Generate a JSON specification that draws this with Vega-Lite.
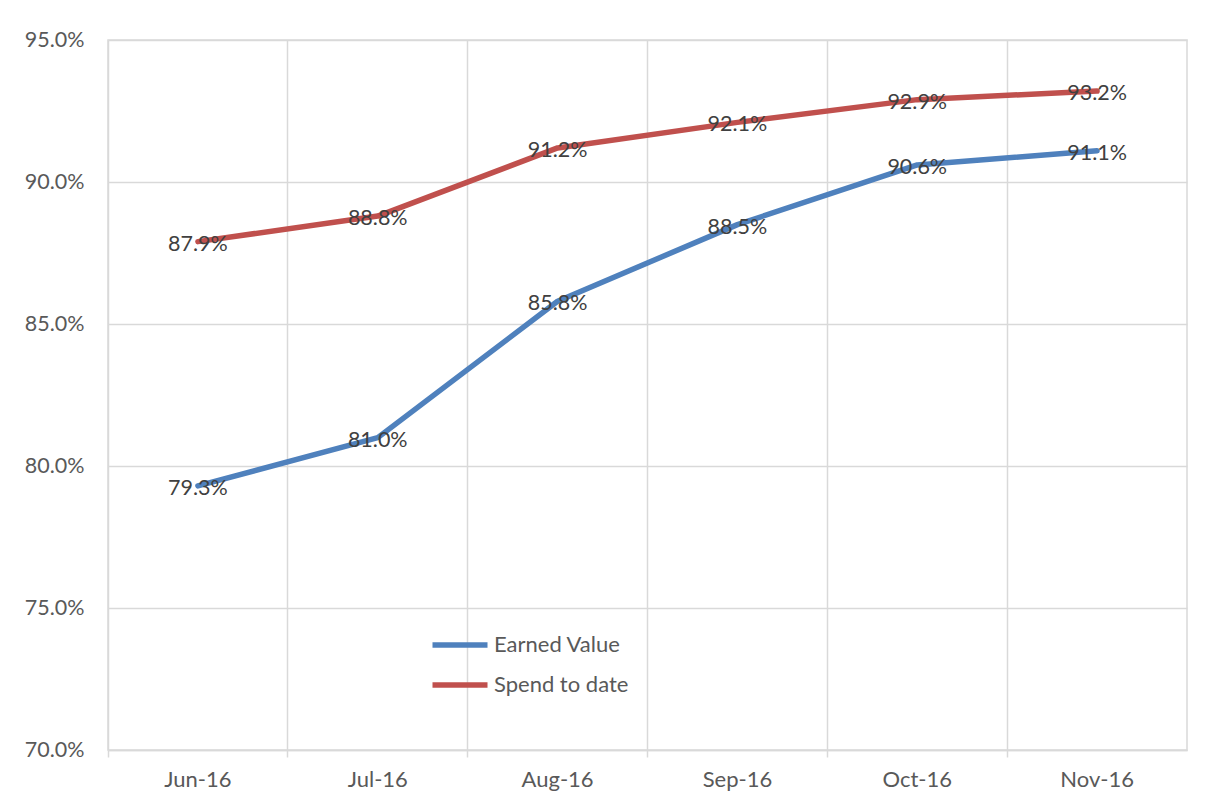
{
  "$schema": "https://vega.github.io/schema/vega-lite/v6.json",
  "autosize": {"type": "none"},
  "padding": {"left": 108, "top": 40, "right": 24, "bottom": 51},
  "width": 1079,
  "height": 710,
  "background": "white",
  "config": {
    "font": "Lato",
    "view": {"stroke": "#d9d9d9", "strokeWidth": 1.5}
  },
  "data": {
    "values": [
      {"month": "Jun-16", "series": "Earned Value", "value": 0.793},
      {"month": "Jul-16", "series": "Earned Value", "value": 0.810},
      {"month": "Aug-16", "series": "Earned Value", "value": 0.858},
      {"month": "Sep-16", "series": "Earned Value", "value": 0.885},
      {"month": "Oct-16", "series": "Earned Value", "value": 0.906},
      {"month": "Nov-16", "series": "Earned Value", "value": 0.911},
      {"month": "Jun-16", "series": "Spend to date", "value": 0.879},
      {"month": "Jul-16", "series": "Spend to date", "value": 0.888},
      {"month": "Aug-16", "series": "Spend to date", "value": 0.912},
      {"month": "Sep-16", "series": "Spend to date", "value": 0.921},
      {"month": "Oct-16", "series": "Spend to date", "value": 0.929},
      {"month": "Nov-16", "series": "Spend to date", "value": 0.932}
    ]
  },
  "encoding": {
    "x": {
      "field": "month",
      "type": "ordinal",
      "sort": null,
      "scale": {"type": "band", "paddingInner": 0, "paddingOuter": 0},
      "axis": {
        "title": null,
        "labelAngle": 0,
        "bandPosition": 0,
        "grid": true,
        "gridColor": "#d9d9d9",
        "gridWidth": 1.5,
        "domainColor": "#d9d9d9",
        "domainWidth": 1.5,
        "tickColor": "#d9d9d9",
        "tickWidth": 1.5,
        "tickSize": 7,
        "labelPadding": 12,
        "labelFontSize": 22,
        "labelColor": "#595959"
      }
    },
    "y": {
      "field": "value",
      "type": "quantitative",
      "scale": {"domain": [0.70, 0.95], "nice": false, "zero": false},
      "axis": {
        "title": null,
        "values": [0.70, 0.75, 0.80, 0.85, 0.90, 0.95],
        "format": ".1%",
        "grid": true,
        "gridColor": "#d9d9d9",
        "gridWidth": 1.5,
        "domain": false,
        "ticks": false,
        "labelPadding": 24,
        "labelFontSize": 21.5,
        "labelColor": "#595959"
      }
    }
  },
  "layer": [
    {
      "mark": {"type": "line", "strokeWidth": 5.5, "strokeCap": "round", "strokeJoin": "round"},
      "encoding": {
        "color": {
          "field": "series",
          "type": "nominal",
          "scale": {"domain": ["Earned Value", "Spend to date"], "range": ["#4f81bd", "#c0504d"]},
          "legend": {
            "title": null,
            "orient": "none",
            "legendX": 338,
            "legendY": 591,
            "symbolType": "M-2.5,0H2.5",
            "symbolSize": 484,
            "symbolStrokeWidth": 5.5,
            "labelFontSize": 22,
            "labelColor": "#595959",
            "labelOffset": 20,
            "rowPadding": 15
          }
        }
      }
    },
    {
      "mark": {"type": "text", "fontSize": 21.5, "color": "#404040", "dy": 3},
      "encoding": {
        "text": {"field": "value", "type": "quantitative", "format": ".1%"},
        "detail": {"field": "series"}
      }
    }
  ]
}
